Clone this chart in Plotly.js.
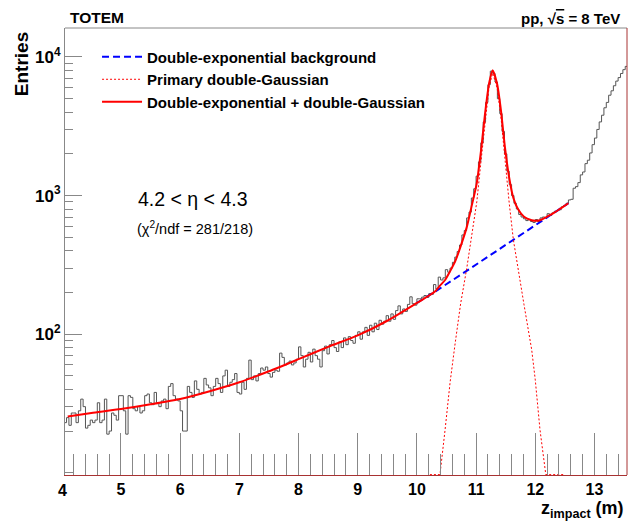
<!DOCTYPE html>
<html><head><meta charset="utf-8">
<script src="https://cdn.plot.ly/plotly-3.0.1.min.js"></script>
<style>html,body{margin:0;padding:0;background:#fff}#plot{width:635px;height:523px}</style>
</head><body><div id="plot"></div>
<script>
// Histogram: regular bins starting at 4.04 m, width 0.04 m
const binStart = 4.04;
const binWidth = 0.04;
const counts = [
  23,25,22,27,27,23,28,34,30,21,22,24,23,24,32,23,24,34,19,20,27,26,24,36,36,
  28,19,36,35,29,28,30,27,28,36,37,32,31,38,32,30,33,34,29,42,44,36,34,33,28,
  20,20,42,38,35,46,40,37,38,48,43,41,36,42,48,44,38,50,55,42,45,47,52,38,37,
  45,40,48,65,47,50,46,52,57,55,58,52,49,53,55,54,73,68,60,62,64,60,62,66,81,
  70,58,66,74,63,78,70,66,58,76,82,72,84,90,80,75,88,80,94,84,96,90,86,98,104,
  92,104,112,98,116,104,120,108,126,118,124,136,124,140,128,148,160,140,152,146,164,186,166,162,180,
  180,185,190,184,196,194,228,212,258,246,255,292,280,300,330,360,395,440,520,560,690,760,960,1120,1380,
  1750,2400,3400,4700,6300,7900,7600,6600,5000,3900,2900,2000,1500,1200,1000,880,800,730,700,680,660,670,650,640,672,
  650,690,700,690,740,720,750,770,780,790,830,850,880,930,940,1130,1160,1240,1410,1480,1700,1800,2030,2330,2600,
  3000,3400,3800,4300,4700,5300,5700,6200,6700,7100,7600,8100,8550
];

// Double-exponential background
const bgX = [10.0, 10.31, 10.75, 11.25, 11.75, 12.25, 12.56];
const bgY = [168, 203, 270, 375, 519, 719, 880];

// Primary double-Gaussian (red dotted), flat parts sit on the axis floor
const gX = [10.22, 10.39, 10.476, 10.561, 10.645, 10.738, 10.843, 10.924, 11.012, 11.085, 11.152, 11.22, 11.28,
            11.355, 11.42, 11.49, 11.56, 11.63, 11.71, 11.81, 11.94, 12.0, 12.08, 12.178, 12.5];
const gY = [9.7, 9.7, 20.4, 45, 85, 165, 300, 520, 900, 1800, 3500, 6100, 7650,
            6000, 3700, 1750, 880, 480, 291, 163, 77, 46.8, 20.4, 9.7, 9.7];

// Total fit (red solid)
const totX = [4.1, 4.5, 5.0, 5.5, 6.0, 6.5, 7.0, 7.5, 8.0, 8.5, 9.0, 9.5, 10.0, 10.30, 10.39, 10.48, 10.56, 10.65,
              10.74, 10.84, 10.92, 11.01, 11.085, 11.15, 11.22, 11.28, 11.355, 11.42, 11.49, 11.56, 11.63, 11.71,
              11.81, 11.94, 12.0, 12.08, 12.18, 12.3, 12.45, 12.56];
const totY = [25.5, 27, 28.8, 31.2, 34.1, 38.8, 45, 54, 66, 81, 98, 125, 168, 202, 224, 247, 284, 338,
              432, 587, 822, 1220, 2136, 3851, 6467, 8032, 6401, 4119, 2188, 1339, 960, 796,
              703, 664, 658, 663, 697, 743, 819, 880];

const legendNames = ['Double-exponential background', 'Primary double-Gaussian', 'Double-exponential + double-Gaussian'];
const xTickVals = [5, 6, 7, 8, 9, 10, 11, 12, 13];
const yTickVals = [100, 1000, 10000];
const yTickText = ['10<sup>2</sup>', '10<sup>3</sup>', '10<sup>4</sup>'];

const FONT = '"Liberation Sans", Arial, sans-serif';

const edges = counts.map((_, i) => binStart + i * binWidth);
edges.push(binStart + counts.length * binWidth);
const histY = counts.concat([counts[counts.length - 1]]);

const traces = [
  {x: edges, y: histY, mode: 'lines', line: {shape: 'hv', color: '#555', width: 1}, showlegend: false, hoverinfo: 'skip'},
  {x: bgX, y: bgY, mode: 'lines', name: legendNames[0], line: {color: '#0000ff', width: 2, dash: '7px,4px'}},
  {x: gX, y: gY, mode: 'lines', name: legendNames[1], line: {color: '#ff0000', width: 1, dash: '2px,2px'}},
  {x: totX, y: totY, mode: 'lines', name: legendNames[2], line: {color: '#ff0000', width: 2, shape: 'spline', smoothing: 0.6}}
];

const layout = {
  width: 635, height: 523,
  margin: {l: 65, r: 8, t: 28, b: 48},
  paper_bgcolor: '#fff', plot_bgcolor: '#fff',
  font: {family: FONT, size: 15, color: '#000', weight: 'bold'},
  showlegend: true,
  legend: {x: 0.057, y: 0.972, xanchor: 'left', yanchor: 'top', bgcolor: 'rgba(0,0,0,0)',
           font: {family: FONT, size: 15, weight: 'bold'}, itemwidth: 40, tracegroupgap: 0},
  xaxis: {range: [4.054, 13.55], showline: true, linecolor: '#a83232', linewidth: 1,
          ticks: 'inside', ticklen: 42, tickcolor: '#888', tickwidth: 1,
          tickvals: xTickVals, showgrid: false, zeroline: false,
          tickfont: {family: FONT, size: 16, weight: 'bold'},
          minor: {ticks: 'inside', ticklen: 21, tickcolor: '#888', dtick: 0.2, tick0: 0, showgrid: false}},
  yaxis: {type: 'log', range: [0.984, 4.209], showline: true, linecolor: '#888', linewidth: 1,
          ticks: 'inside', ticklen: 17, tickcolor: '#888', tickvals: yTickVals, ticktext: yTickText,
          showgrid: false, zeroline: false, tickfont: {family: FONT, size: 17, weight: 'bold'},
          minor: {ticks: 'inside', ticklen: 8, tickcolor: '#888', dtick: 'D1', showgrid: false}},
  shapes: [
    {type: 'line', xref: 'paper', yref: 'paper', x0: 0, x1: 1, y0: 1, y1: 1, line: {color: '#888', width: 1}},
    {type: 'line', xref: 'paper', yref: 'paper', x0: 1, x1: 1, y0: 0, y1: 1, line: {color: '#a83232', width: 1}}
  ],
  annotations: [
    {text: 'TOTEM', xref: 'paper', yref: 'paper', x: 0.005, y: 1.024, xanchor: 'left', yanchor: 'middle', showarrow: false,
     font: {family: FONT, size: 15.5, weight: 'bold'}},
    {text: 'pp, √<span style="text-decoration:overline">s</span> = 8 TeV', xref: 'paper', yref: 'paper', x: 0.991, y: 1.022,
     xanchor: 'right', yanchor: 'middle', showarrow: false, font: {family: FONT, size: 15, weight: 'bold'}},
    {text: '4.2 < η < 4.3', xref: 'paper', yref: 'paper', x: 0.228, y: 0.618, xanchor: 'center', yanchor: 'middle',
     showarrow: false, font: {family: FONT, size: 19.5, weight: 'normal'}},
    {text: '(χ<sup>2</sup>/ndf = 281/218)', xref: 'paper', yref: 'paper', x: 0.231, y: 0.553, xanchor: 'center', yanchor: 'middle',
     showarrow: false, font: {family: FONT, size: 14.5, weight: 'normal'}},
    {text: 'Entries', xref: 'paper', yref: 'paper', x: -0.078, y: 0.9955, xanchor: 'center', yanchor: 'top', textangle: -90,
     showarrow: false, font: {family: FONT, size: 19, weight: 'bold'}},
    {text: 'z<sub>impact</sub> (m)', xref: 'paper', yref: 'paper', x: 0.998, y: -0.048, xanchor: 'right', yanchor: 'top',
     showarrow: false, font: {family: FONT, size: 18, weight: 'bold'}},
    {text: '4', xref: 'paper', yref: 'paper', x: -0.0048, y: -0.034, xanchor: 'center', yanchor: 'middle',
     showarrow: false, font: {family: FONT, size: 16, weight: 'bold'}}
  ]
};

Plotly.newPlot('plot', traces, layout, {staticPlot: true, displayModeBar: false});
</script></body></html>
